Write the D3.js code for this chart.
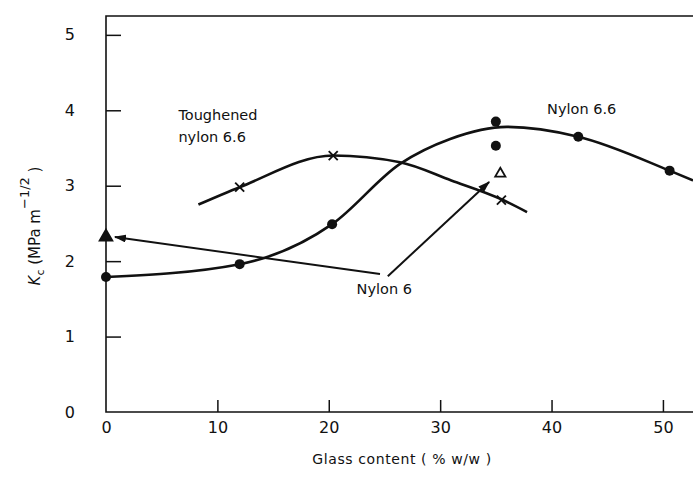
<!DOCTYPE html>
<html>
<head>
<meta charset="utf-8">
<script src="https://cdn.jsdelivr.net/npm/d3@7"></script>
<style>
  body { margin: 0; background: #fff; }
  svg text { font-family: "DejaVu Sans", sans-serif; fill: #111; }
</style>
</head>
<body>
<svg id="chart" width="693" height="481"></svg>
<script>
// tick labels
const xTicks = [0, 10, 20, 30, 40, 50];
const yTicks = [0, 1, 2, 3, 4, 5];

// Nylon 6.6 measured points (filled circles)
const nylon66X = [0, 12, 20.3, 35, 35, 42.4, 50.6];
const nylon66Y = [1.79, 1.96, 2.49, 3.85, 3.53, 3.65, 3.2];
// Nylon 6.6 hand-drawn fit
const nylon66CurveX = [0, 12, 20.3, 26.4, 30.9, 36, 42.4, 50.6, 52.7];
const nylon66CurveY = [1.79, 1.96, 2.49, 3.29, 3.62, 3.78, 3.65, 3.2, 3.07];

// Toughened nylon 6.6 (crosses)
const toughX = [12, 20.4, 35.5];
const toughY = [2.98, 3.4, 2.81];
const toughCurveX = [8.3, 12, 20.4, 26.4, 31, 35.5, 37.8];
const toughCurveY = [2.75, 2.98, 3.4, 3.31, 3.07, 2.82, 2.65];

// Nylon 6 (triangles): filled at 0 %, open at 35 %
const nylon6X = [0, 35.4];
const nylon6Y = [2.32, 3.16];
const nylon6Fill = [true, false];
// arrows from the "Nylon 6" label to its points
const arrowFromX = [24.6, 25.3];
const arrowFromY = [1.83, 1.8];
const arrowToX = [0.8, 34.4];
const arrowToY = [2.32, 3.05];

const labels = [
  { text: "Toughened", x: 6.5, y: 3.87 },
  { text: "nylon 6.6", x: 6.5, y: 3.58 },
  { text: "Nylon 6.6", x: 39.6, y: 3.95 },
  { text: "Nylon 6", x: 22.5, y: 1.57 }
];

const svg = d3.select("#chart");
const width = 693, height = 481;

const x = d3.scaleLinear().domain([0, 52.7]).range([106, 693]);
const y = d3.scaleLinear().domain([0, 5.25]).range([412, 16]);

svg.append("rect").attr("width", width).attr("height", height).attr("fill", "white");

// frame: left, bottom, top
const frame = svg.append("g").attr("stroke", "#111").attr("stroke-width", 1.6).attr("fill", "none");
frame.append("path")
  .attr("d", d3.line()([[x(52.7), y(5.25)], [x(0), y(5.25)], [x(0), y(0)], [x(52.7), y(0)]]));

const xAxis = d3.axisBottom(x).tickValues(xTicks).tickFormat(d3.format("d"))
  .tickSizeInner(-12).tickSizeOuter(0).tickPadding(10);
const yAxis = d3.axisLeft(y).tickValues(yTicks).tickFormat(d3.format("d"))
  .tickSizeInner(-15).tickSizeOuter(0).tickPadding(31);

const gx = svg.append("g").attr("transform", `translate(0,${y(0)})`).call(xAxis);
const gy = svg.append("g").attr("transform", `translate(${x(0)},0)`).call(yAxis);
[gx, gy].forEach(g => {
  g.select(".domain").remove();
  g.selectAll("line").attr("stroke", "#111").attr("stroke-width", 1.5);
  g.selectAll("text").attr("font-size", 16).attr("font-family", "DejaVu Sans, sans-serif").attr("fill", "#111");
});
// no tick mark at the zero positions
gx.selectAll(".tick").filter(d => d === 0).select("line").remove();
gy.selectAll(".tick").filter(d => d === 0).select("line").remove();

// axis titles
svg.append("text")
  .attr("x", 402).attr("y", 464)
  .attr("text-anchor", "middle")
  .attr("font-size", 14)
  .attr("letter-spacing", 0.6)
  .text("Glass content ( % w/w )");

const ylab = svg.append("text")
  .attr("transform", "translate(40,226) rotate(-90)")
  .attr("text-anchor", "middle")
  .attr("font-size", 15);
ylab.append("tspan").attr("font-style", "italic").text("K");
ylab.append("tspan").attr("font-size", 11).attr("baseline-shift", "-4").text("c");
ylab.append("tspan").text(" (MPa  m");
ylab.append("tspan").attr("font-size", 13).attr("baseline-shift", "11").text("\u22121/2");
ylab.append("tspan").text(" )");

// fitted curves
const curveLine = d3.line().x(d => x(d[0])).y(d => y(d[1])).curve(d3.curveMonotoneX);
svg.append("path")
  .datum(nylon66CurveX.map((v, i) => [v, nylon66CurveY[i]]))
  .attr("d", curveLine)
  .attr("fill", "none").attr("stroke", "#111").attr("stroke-width", 2.6);
svg.append("path")
  .datum(toughCurveX.map((v, i) => [v, toughCurveY[i]]))
  .attr("d", curveLine)
  .attr("fill", "none").attr("stroke", "#111").attr("stroke-width", 2.6);

// arrows
svg.append("defs").append("marker")
  .attr("id", "head")
  .attr("viewBox", "0 0 12 8")
  .attr("refX", 11).attr("refY", 4)
  .attr("markerWidth", 12).attr("markerHeight", 8)
  .attr("markerUnits", "userSpaceOnUse")
  .attr("orient", "auto")
  .append("path").attr("d", "M0,0L12,4L0,8z").attr("fill", "#111");

svg.append("g").selectAll("line")
  .data(arrowFromX.map((v, i) => ({ x1: v, y1: arrowFromY[i], x2: arrowToX[i], y2: arrowToY[i] })))
  .join("line")
  .attr("x1", d => x(d.x1)).attr("y1", d => y(d.y1))
  .attr("x2", d => x(d.x2)).attr("y2", d => y(d.y2))
  .attr("stroke", "#111").attr("stroke-width", 2)
  .attr("marker-end", "url(#head)");

// markers
svg.append("g").selectAll("circle")
  .data(nylon66X.map((v, i) => ({ x: v, y: nylon66Y[i] })))
  .join("circle")
  .attr("cx", d => x(d.x)).attr("cy", d => y(d.y))
  .attr("r", 5).attr("fill", "#111");

const cross = svg.append("g").attr("stroke", "#111").attr("stroke-width", 1.8);
toughX.forEach((v, i) => {
  const cx = x(v), cy = y(toughY[i]), s = 4.5;
  cross.append("line").attr("x1", cx - s).attr("y1", cy - s).attr("x2", cx + s).attr("y2", cy + s);
  cross.append("line").attr("x1", cx - s).attr("y1", cy + s).attr("x2", cx + s).attr("y2", cy - s);
});

svg.append("g").selectAll("path")
  .data(nylon6X.map((v, i) => ({ x: v, y: nylon6Y[i], filled: nylon6Fill[i] })))
  .join("path")
  .attr("transform", d => `translate(${x(d.x)},${y(d.y)})`)
  .attr("d", d => d3.symbol(d3.symbolTriangle).size(d.filled ? 70 : 45)())
  .attr("fill", d => d.filled ? "#111" : "white")
  .attr("stroke", "#111").attr("stroke-width", 1.8);

// annotations
svg.append("g").selectAll("text")
  .data(labels)
  .join("text")
  .attr("x", d => x(d.x)).attr("y", d => y(d.y))
  .attr("font-size", 14.5)
  .text(d => d.text);
</script>
</body>
</html>
